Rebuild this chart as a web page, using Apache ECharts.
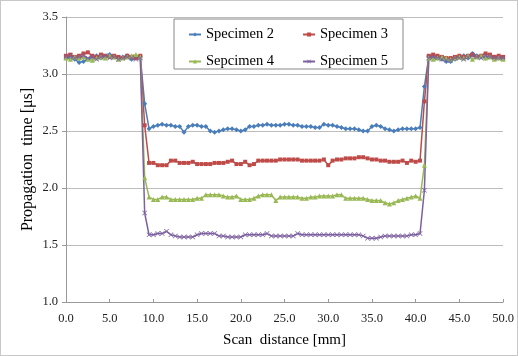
<!DOCTYPE html>
<html>
<head>
<meta charset="utf-8">
<script src="https://cdn.jsdelivr.net/npm/echarts@6/dist/echarts.min.js"></script>
<style>
  html, body { margin: 0; padding: 0; background: #fff; }
  #chart { width: 518px; height: 356px; box-sizing: border-box; border: 1px solid #c8c8c8; }
</style>
</head>
<body>
<div id="chart"></div>
<script>
// scan positions, 0.0 ... 50.0 mm every 0.5 mm
var scanX = [];
for (var i = 0; i <= 100; i++) scanX.push(i * 0.5);

var seriesNames = ["Specimen 2", "Specimen 3", "Sepcimen 4", "Specimen 5"];

var specimen2 = [
  3.15,3.14,3.13,3.10,3.11,3.13,3.15,3.16,3.14,3.15,
  3.17,3.15,3.14,3.15,3.16,3.13,3.14,3.15,2.74,2.52,
  2.54,2.55,2.56,2.55,2.55,2.54,2.54,2.49,2.54,2.55,
  2.55,2.54,2.54,2.50,2.49,2.50,2.51,2.52,2.52,2.51,
  2.50,2.51,2.54,2.54,2.55,2.55,2.56,2.55,2.55,2.55,
  2.56,2.56,2.55,2.55,2.54,2.54,2.54,2.53,2.53,2.56,
  2.55,2.55,2.54,2.53,2.52,2.52,2.52,2.51,2.50,2.50,
  2.54,2.55,2.54,2.52,2.51,2.50,2.51,2.52,2.52,2.52,
  2.52,2.53,2.89,3.15,3.16,3.14,3.13,3.11,3.11,3.13,
  3.15,3.16,3.14,3.18,3.16,3.15,3.14,3.16,3.15,3.14,
  3.14
];
var specimen3 = [
  3.16,3.17,3.15,3.16,3.18,3.19,3.16,3.15,3.17,3.16,
  3.15,3.16,3.15,3.14,3.16,3.15,3.14,3.16,2.55,2.22,
  2.22,2.20,2.20,2.20,2.24,2.24,2.22,2.22,2.22,2.23,
  2.21,2.21,2.21,2.21,2.22,2.22,2.22,2.23,2.24,2.21,
  2.21,2.23,2.20,2.21,2.24,2.24,2.24,2.24,2.24,2.25,
  2.25,2.25,2.25,2.25,2.24,2.24,2.24,2.24,2.24,2.25,
  2.20,2.24,2.25,2.25,2.26,2.26,2.26,2.27,2.27,2.26,
  2.25,2.25,2.24,2.24,2.23,2.23,2.23,2.24,2.22,2.24,
  2.23,2.24,2.76,3.16,3.17,3.16,3.15,3.14,3.14,3.15,
  3.16,3.15,3.16,3.17,3.15,3.16,3.18,3.17,3.15,3.16,
  3.15
];
var specimen4 = [
  3.14,3.13,3.15,3.14,3.15,3.13,3.12,3.14,3.15,3.14,
  3.16,3.15,3.13,3.14,3.15,3.16,3.17,3.15,2.09,1.92,
  1.90,1.90,1.92,1.92,1.90,1.90,1.90,1.90,1.90,1.90,
  1.91,1.91,1.94,1.94,1.94,1.94,1.93,1.92,1.92,1.93,
  1.90,1.90,1.90,1.91,1.93,1.94,1.94,1.94,1.89,1.92,
  1.92,1.92,1.92,1.92,1.91,1.91,1.92,1.92,1.93,1.93,
  1.93,1.93,1.94,1.94,1.91,1.91,1.91,1.91,1.91,1.90,
  1.89,1.89,1.89,1.87,1.86,1.87,1.89,1.90,1.91,1.92,
  1.93,1.91,2.20,3.14,3.13,3.14,3.15,3.14,3.13,3.14,
  3.15,3.14,3.16,3.13,3.15,3.16,3.14,3.15,3.13,3.14,
  3.13
];
var specimen5 = [
  3.15,3.16,3.14,3.15,3.16,3.14,3.15,3.13,3.15,3.16,
  3.14,3.15,3.13,3.14,3.15,3.14,3.13,3.14,1.78,1.59,
  1.59,1.60,1.60,1.62,1.59,1.58,1.57,1.57,1.57,1.57,
  1.59,1.60,1.60,1.60,1.60,1.58,1.58,1.57,1.57,1.57,
  1.57,1.59,1.59,1.59,1.59,1.59,1.60,1.58,1.58,1.58,
  1.58,1.58,1.58,1.60,1.59,1.59,1.59,1.59,1.59,1.59,
  1.59,1.59,1.59,1.59,1.59,1.59,1.59,1.59,1.58,1.56,
  1.56,1.56,1.57,1.58,1.58,1.58,1.58,1.58,1.58,1.59,
  1.59,1.60,1.98,3.14,3.15,3.14,3.13,3.12,3.12,3.14,
  3.14,3.13,3.15,3.16,3.15,3.14,3.16,3.15,3.14,3.14,
  3.14
];

var allValues = [specimen2, specimen3, specimen4, specimen5];
var colors = ["#4a7ebb", "#be4b48", "#98b954", "#7d60a0"];
// diamond, square, triangle, cross
var symbols = [
  "diamond",
  "rect",
  "triangle",
  "path://M0,1L1,0L5,4L9,0L10,1L6,5L10,9L9,10L5,6L1,10L0,9L4,5Z"
];
var symbolSizes = [5, 4, 5, 5];

var serif = "Liberation Serif";

var chart = echarts.init(document.getElementById("chart"));

var series = [];
allValues.forEach(function (vals, k) {
  series.push({
    name: seriesNames[k],
    type: "line",
    data: scanX.map(function (x, i) { return [x, vals[i]]; }),
    symbol: symbols[k],
    symbolSize: symbolSizes[k],
    showAllSymbol: true,
    lineStyle: { width: 1.5, color: colors[k] },
    itemStyle: { color: colors[k] },
    emphasis: { disabled: true }
  });
});

var legendText = { fontFamily: serif, fontSize: 14.5, color: "#000" };

var option = {
  animation: false,
  color: colors,
  grid: { left: 65, right: 13, top: 16, bottom: 53 },
  graphic: [{
    type: "rect",
    z: 5,
    shape: { x: 173, y: 18, width: 229, height: 50 },
    style: { fill: "#fff", stroke: "#888", lineWidth: 1 }
  }],
  legend: [
    {
      data: ["Specimen 2", "Specimen 3"],
      left: 182, top: 21, z: 10,
      itemWidth: 12, itemHeight: 5, itemGap: 28,
      textStyle: legendText
    },
    {
      data: ["Sepcimen 4", "Specimen 5"],
      left: 182, top: 48, z: 10,
      itemWidth: 12, itemHeight: 5, itemGap: 28,
      textStyle: legendText
    }
  ],
  xAxis: {
    type: "value",
    min: 0, max: 50, interval: 5,
    name: "Scan  distance [mm]",
    nameLocation: "middle",
    nameGap: 31,
    nameMoveOverlap: false,
    nameTextStyle: { fontFamily: serif, fontSize: 15, color: "#000" },
    axisLine: { lineStyle: { color: "#999" } },
    axisTick: { inside: true, length: 3, lineStyle: { color: "#999" } },
    axisLabel: {
      fontFamily: serif, fontSize: 12.5, color: "#222", margin: 10,
      formatter: function (v) { return v.toFixed(1); }
    },
    splitLine: { show: false }
  },
  yAxis: {
    type: "value",
    min: 1.0, max: 3.5, interval: 0.5,
    name: "Propagation  time [μs]",
    nameLocation: "middle",
    nameGap: 30,
    nameMoveOverlap: false,
    nameTextStyle: { fontFamily: serif, fontSize: 16, color: "#000" },
    axisLine: { show: true, lineStyle: { color: "#999" } },
    axisTick: { show: true, length: 4, lineStyle: { color: "#999" } },
    axisLabel: {
      fontFamily: serif, fontSize: 12.5, color: "#222", margin: 8,
      formatter: function (v) { return v.toFixed(1); }
    },
    splitLine: { lineStyle: { color: "#bdbdbd" } }
  },
  series: series
};

chart.setOption(option);
</script>
</body>
</html>
